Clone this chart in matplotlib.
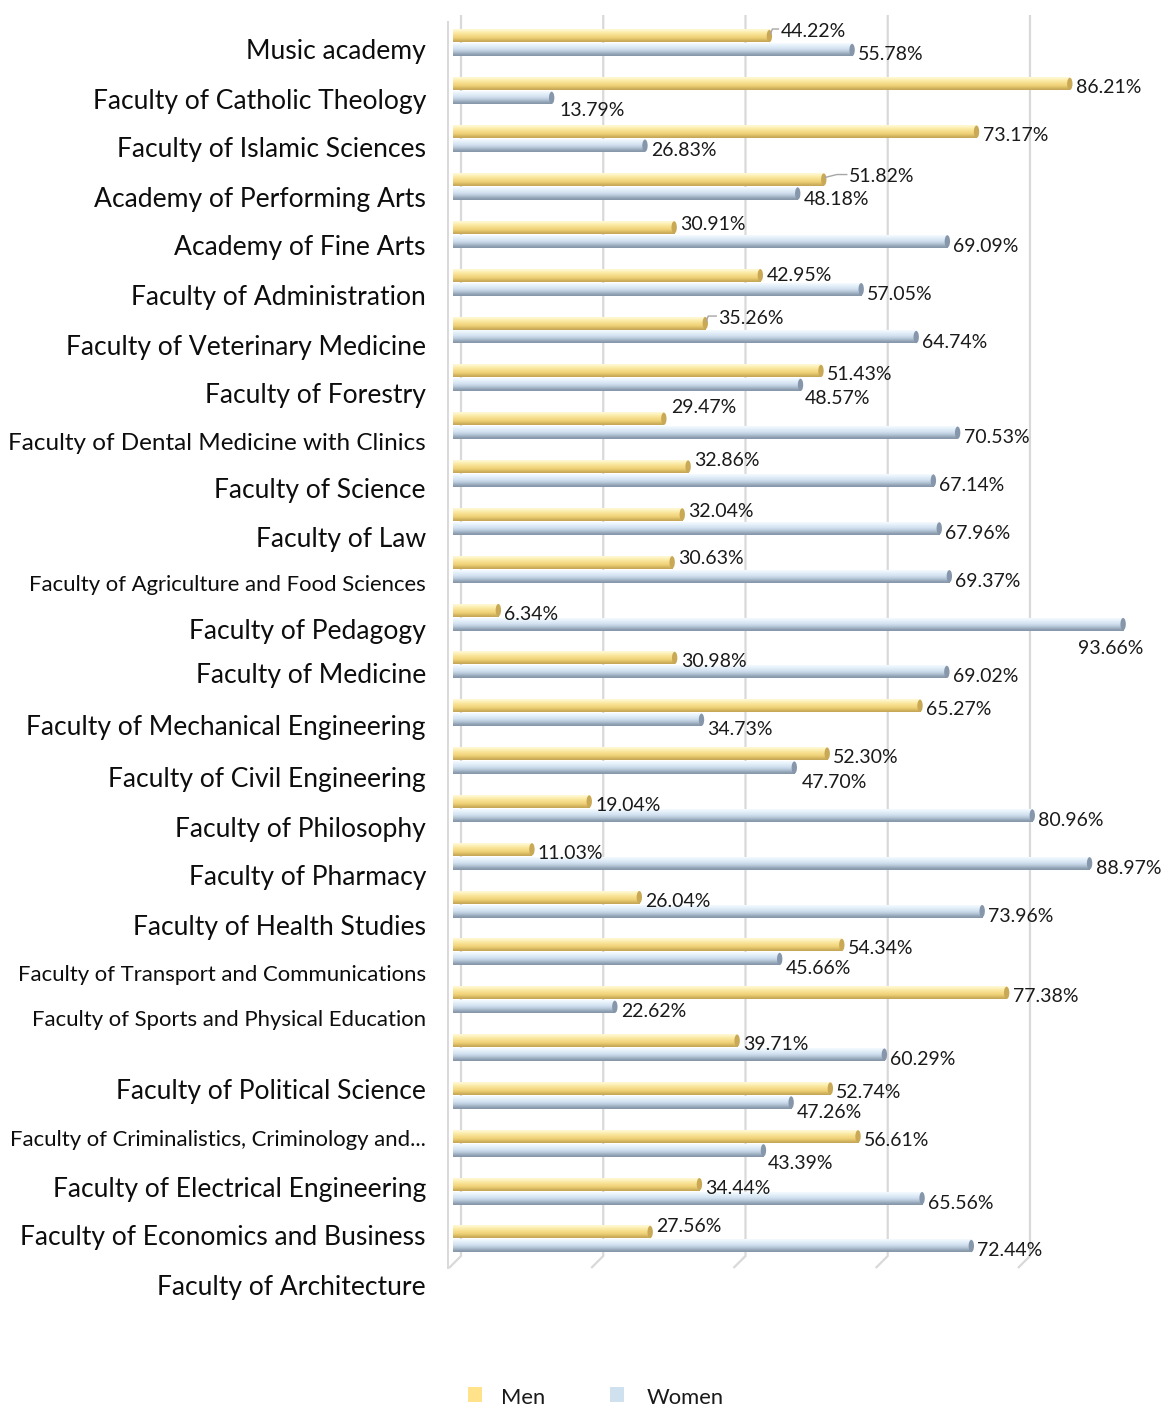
import matplotlib.pyplot as plt
from matplotlib.patches import Ellipse, Rectangle
from matplotlib.colors import to_rgb
import numpy as np

# category labels as they stand on the left (one slot is empty in the source)
categories = ["Music academy", "Faculty of Catholic Theology", "Faculty of Islamic Sciences",
              "Academy of Performing Arts", "Academy of Fine Arts", "Faculty of Administration",
              "Faculty of Veterinary Medicine", "Faculty of Forestry",
              "Faculty of Dental Medicine with Clinics", "Faculty of Science", "Faculty of Law",
              "Faculty of Agriculture and Food Sciences", "Faculty of Pedagogy", "Faculty of Medicine",
              "Faculty of Mechanical Engineering", "Faculty of Civil Engineering",
              "Faculty of Philosophy", "Faculty of Pharmacy", "Faculty of Health Studies",
              "Faculty of Transport and Communications", "Faculty of Sports and Physical Education",
              "", "Faculty of Political Science", "Faculty of Criminalistics, Criminology and...",
              "Faculty of Electrical Engineering", "Faculty of Economics and Business",
              "Faculty of Architecture"]

men = [44.22, 86.21, 73.17, 51.82, 30.91, 42.95, 35.26, 51.43, 29.47, 32.86, 32.04, 30.63, 6.34,
       30.98, 65.27, 52.30, 19.04, 11.03, 26.04, 54.34, 77.38, 39.71, 52.74, 56.61, 34.44, 27.56]
women = [55.78, 13.79, 26.83, 48.18, 69.09, 57.05, 64.74, 48.57, 70.53, 67.14, 67.96, 69.37, 93.66,
         69.02, 34.73, 47.70, 80.96, 88.97, 73.96, 45.66, 22.62, 60.29, 47.26, 43.39, 65.56, 72.44]
series_names = ["Men", "Women"]

# ---- layout (pixels of the 1161x1407 canvas) ----
W, H = 1161, 1407
PX_X = 7.155      # px per percent
PX_Y = 47.84      # px per category
label_y_px = [50, 99, 148, 197, 246, 296, 345, 394, 441, 489, 538, 583, 630, 674, 726, 778,
              827, 876, 925, 973, 1018, 1054, 1090, 1138, 1187, 1236, 1285]
small_labels = {11, 19, 20, 23}
mid_labels = {8}
# label offsets in px: {index: (dx, dy)}
men_off = {0: (11, -7), 3: (25, -5), 4: (6, -5), 5: (6, -2), 6: (13, -7), 8: (7, -13),
           9: (6, -8), 10: (6, -5), 11: (6, -6), 25: (6, -8)}
women_off = {1: (8, 11), 3: (6, 4), 7: (4, 12), 12: (-45, 22), 14: (6, 8), 15: (7, 13),
             19: (6, 8), 22: (6, 8), 23: (4, 11)}
leaders = [0, 3, 6]
TXT_SHIFT = 2     # text baseline correction, px

plt.rcParams['font.family'] = ['Lato', 'DejaVu Sans']

fig = plt.figure(figsize=(W / 100, H / 100), dpi=100)
top_px, bot_px = 15, 1272
ax = fig.add_axes([453 / W, 1 - bot_px / H, (W - 453) / W, (bot_px - top_px) / H])
ax.set_xlim(0, (W - 453) / PX_X)
ax.set_ylim((bot_px - 43) / PX_Y, (top_px - 43) / PX_Y)
ax.axis('off')

dxp = 1 / PX_X
dyp = 1 / PX_Y

# gridlines with a little 3D floor bend
for g in [0, 20, 40, 60, 80]:
    gx = g * 0.994 + 8 * dxp
    yb = (1256 - 43) * dyp
    ax.plot([gx, gx, gx - 12 * dxp], [(top_px - 43) * dyp, yb, yb + 12 * dyp],
            color='#d9d9d9', lw=1.6, zorder=0, clip_on=False, solid_capstyle='butt')
ax.plot([-5 * dxp, -5 * dxp], [(22 - 43) * dyp, (1268 - 43) * dyp], color='#d9d9d9', lw=1.4,
        zorder=0, clip_on=False)

men_grad = ['#fff8d4', '#fcefb2', '#f9e59a', '#f6dc88', '#f0d37a', '#e0c268', '#c4a657']
women_grad = ['#f3f9ff', '#e4eff9', '#d9e7f4', '#cddcec', '#b9cadb', '#9eafc2', '#8797aa']
cap_col = ['#c9a955', '#8797ab']

bh = 0.27
off = 0.146


def draw_bar(v, y, grad, cap):
    arr = np.array([to_rgb(c) for c in grad])[:, None, :]
    ax.imshow(arr, extent=(0, v, y + bh / 2, y - bh / 2), aspect='auto',
              interpolation='bicubic', zorder=2)
    ax.add_patch(Ellipse((v, y), 0.75, bh * 0.95, color=cap, zorder=3, lw=0))


for i, (m, w) in enumerate(zip(men, women)):
    ym, yw = i - off, i + off
    draw_bar(m, ym, men_grad, cap_col[0])
    draw_bar(w, yw, women_grad, cap_col[1])

    dx, dy = men_off.get(i, (6, 2))
    ax.annotate(f"{m:.2f}%", (m, ym), xytext=(dx, -dy - TXT_SHIFT), textcoords='offset pixels',
                ha='left', va='center', fontsize=14, color='#1a1a1a', zorder=4)
    if i in leaders:
        ax.plot([m + 1 * dxp, m + max(3, dx - 12) * dxp, m + (dx - 2) * dxp],
                [ym - 2 * dyp, ym + dy * dyp, ym + dy * dyp],
                color='#a6a6a6', lw=1, zorder=4, clip_on=False)

    dx, dy = women_off.get(i, (6, 3))
    ax.annotate(f"{w:.2f}%", (w, yw), xytext=(dx, -dy - TXT_SHIFT), textcoords='offset pixels',
                ha='left', va='center', fontsize=14, color='#1a1a1a', zorder=4)

for j, (lab, ypx) in enumerate(zip(categories, label_y_px)):
    fs = 15.9 if j in small_labels else (17.5 if j in mid_labels else 19.1)
    fig.text(426 / W, 1 - (ypx + TXT_SHIFT) / H, lab, ha='right', va='center', fontsize=fs,
             color='#0d0d0d')

# legend
for x0, col, xt, name in [(468, '#ffe28a', 501, series_names[0]),
                          (610, '#cfe0ee', 647, series_names[1])]:
    fig.add_artist(Rectangle((x0 / W, 1 - 1402 / H), 14 / W, 15 / H, transform=fig.transFigure,
                             color=col, lw=0))
    fig.text(xt / W, 1 - (1396 + TXT_SHIFT) / H, name, ha='left', va='center', fontsize=15.8,
             color='#1a1a1a')

fig.savefig('out.png', dpi=100)
